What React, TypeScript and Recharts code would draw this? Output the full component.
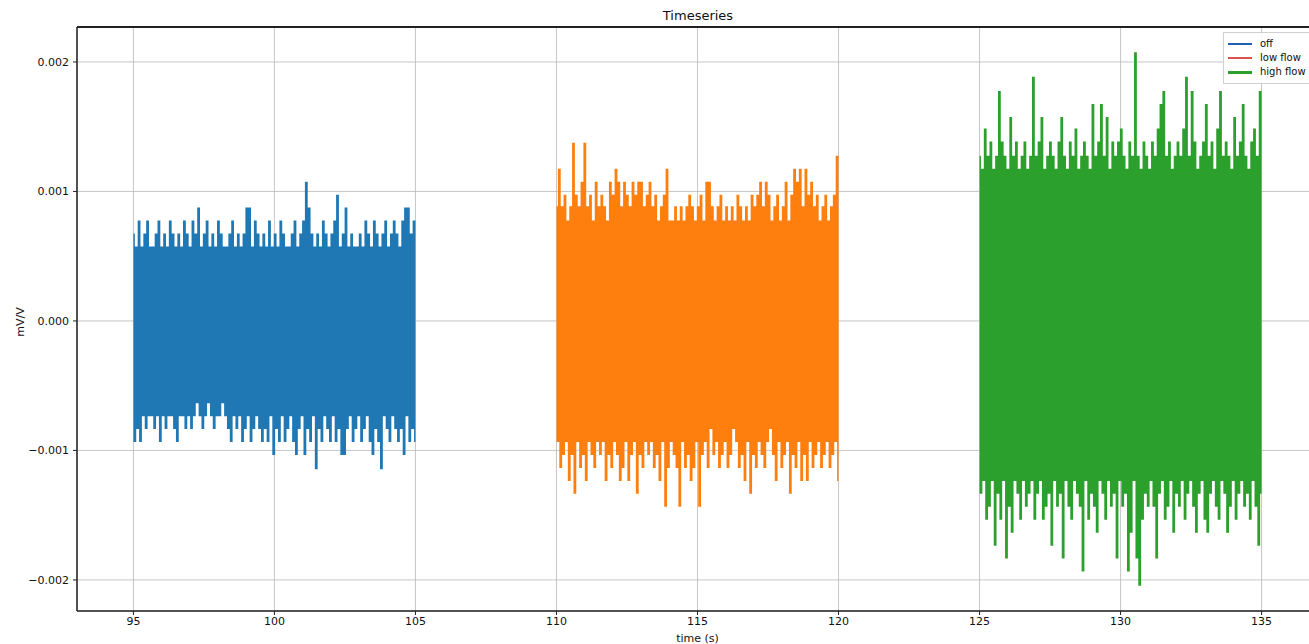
import { LineChart, Line, XAxis, YAxis, CartesianGrid, ReferenceLine } from 'recharts';

// sample peaks and troughs, in units of 1e-5 mV/V
const offHigh = [
  67, 57, 77, 57, 67, 77, 57, 57, 67, 77,
  57, 67, 57, 77, 67, 57, 67, 57, 77, 67,
  57, 77, 67, 87, 57, 67, 77, 57, 67, 57,
  77, 67, 57, 57, 67, 77, 57, 67, 57, 67,
  87, 87, 57, 77, 67, 57, 67, 57, 77, 57,
  67, 57, 77, 67, 57, 57, 67, 77, 57, 67,
  77, 107, 87, 67, 57, 67, 57, 77, 67, 57,
  67, 77, 97, 57, 67, 87, 57, 67, 57, 57,
  67, 57, 77, 67, 57, 77, 67, 57, 67, 77,
  57, 67, 77, 67, 57, 77, 87, 87, 67, 77,
];
const offLow = [
  -93, -83, -93, -73, -83, -73, -73, -83, -73, -93,
  -73, -83, -73, -73, -83, -93, -73, -73, -83, -73,
  -83, -73, -63, -73, -83, -73, -63, -73, -83, -73,
  -73, -63, -73, -83, -93, -73, -83, -73, -93, -83,
  -73, -93, -83, -73, -83, -93, -83, -93, -73, -103,
  -83, -93, -73, -93, -83, -73, -93, -103, -83, -73,
  -103, -83, -93, -73, -114, -83, -93, -73, -83, -93,
  -73, -93, -83, -103, -103, -83, -73, -93, -83, -73,
  -93, -83, -73, -93, -103, -83, -93, -114, -73, -83,
  -93, -73, -83, -93, -83, -103, -73, -93, -83, -93,
];
const lowHigh = [
  88, 117, 88, 97, 77, 88, 137, 97, 88, 107,
  137, 88, 97, 77, 107, 88, 97, 88, 77, 107,
  97, 117, 107, 88, 107, 97, 88, 107, 97, 107,
  107, 88, 97, 107, 88, 97, 77, 88, 97, 117,
  77, 77, 88, 77, 88, 77, 88, 97, 88, 77,
  88, 97, 77, 107, 107, 88, 77, 88, 97, 77,
  88, 77, 88, 77, 97, 88, 77, 88, 77, 97,
  88, 97, 107, 88, 107, 97, 77, 88, 97, 77,
  88, 107, 77, 97, 117, 107, 117, 88, 117, 97,
  107, 88, 97, 77, 88, 97, 77, 88, 97, 127,
];
const lowLow = [
  -93, -113, -103, -93, -123, -103, -133, -93, -113, -103,
  -123, -93, -103, -113, -93, -103, -93, -123, -103, -113,
  -93, -103, -123, -113, -93, -123, -103, -93, -133, -103,
  -113, -93, -103, -93, -113, -103, -123, -93, -143, -113,
  -93, -103, -113, -143, -93, -113, -103, -123, -113, -93,
  -143, -103, -93, -113, -83, -103, -93, -113, -103, -93,
  -113, -103, -83, -93, -113, -103, -123, -93, -133, -103,
  -113, -93, -103, -113, -93, -83, -103, -123, -93, -113,
  -103, -93, -133, -103, -113, -93, -123, -103, -123, -93,
  -113, -103, -93, -113, -103, -93, -113, -103, -93, -123,
];
const highHigh = [
  127, 117, 148, 127, 138, 117, 127, 177, 138, 127,
  117, 157, 127, 138, 117, 127, 138, 117, 127, 188,
  127, 138, 157, 117, 127, 138, 127, 117, 138, 157,
  127, 117, 138, 127, 148, 117, 127, 138, 127, 117,
  167, 127, 138, 167, 127, 157, 117, 138, 127, 138,
  148, 127, 117, 138, 127, 207, 127, 117, 138, 127,
  117, 138, 127, 148, 167, 177, 127, 138, 117, 127,
  138, 127, 148, 188, 127, 177, 138, 117, 127, 138,
  167, 127, 138, 117, 148, 177, 127, 138, 127, 117,
  157, 127, 138, 167, 127, 117, 138, 148, 127, 177,
];
const highLow = [
  -133, -123, -153, -143, -123, -173, -133, -153, -123, -183,
  -143, -163, -123, -133, -153, -123, -143, -133, -123, -153,
  -133, -123, -153, -143, -133, -173, -123, -143, -133, -183,
  -123, -143, -153, -123, -133, -143, -193, -123, -153, -133,
  -143, -163, -123, -133, -153, -123, -143, -133, -183, -123,
  -143, -133, -193, -163, -123, -183, -204, -153, -133, -143,
  -123, -143, -183, -133, -123, -153, -143, -123, -163, -133,
  -143, -123, -153, -133, -123, -143, -163, -133, -123, -153,
  -163, -133, -123, -143, -153, -123, -133, -163, -143, -123,
  -153, -133, -123, -143, -133, -153, -123, -143, -173, -133,
];

const segments = [
  { name: 'off', start: 95, end: 105, high: offHigh, low: offLow, color: '#1f77b4' },
  { name: 'low flow', start: 110, end: 120, high: lowHigh, low: lowLow, color: '#ff7f0e' },
  { name: 'high flow', start: 125, end: 135, high: highHigh, low: highLow, color: '#2ca02c' },
];
const legendItems = [
  { name: 'off', color: '#1f5fb4', width: 1.5 },
  { name: 'low flow', color: '#d9534f', width: 1.5 },
  { name: 'high flow', color: '#2ca02c', width: 3 },
];
const xTicks = [95, 100, 105, 110, 115, 120, 125, 130, 135];
const yTicks = [-0.002, -0.001, 0, 0.001, 0.002];
const xDomain = [93, 137];
const yDomain = [-0.00224, 0.00227];

// interleave peaks and troughs on an even time grid across each segment
const buildSeries = (s: typeof segments[number]) => {
  const n = s.high.length * 2;
  const dt = (s.end - s.start) / (n - 1);
  const pts: { t: number; v: number }[] = [];
  s.high.forEach((h, i) => {
    pts.push({ t: s.start + 2 * i * dt, v: h / 1e5 });
    pts.push({ t: s.start + (2 * i + 1) * dt, v: s.low[i] / 1e5 });
  });
  return pts;
};

const fmtY = (v: number) => (v === 0 ? '0.000' : (v < 0 ? '\u2212' : '') + Math.abs(v).toFixed(3));

const font = { fontFamily: 'DejaVu Sans, sans-serif', fontSize: 11, fill: '#111' };

export default function App() {
  return (
    <div style={{ position: 'absolute', left: 0, top: 0, width: 1309, height: 644, overflow: 'hidden', background: '#fff' }}>
      <div
        style={{
          position: 'absolute', left: 0, width: 1396, top: 8, textAlign: 'center',
          fontFamily: 'DejaVu Sans, sans-serif', fontSize: 13, color: '#111',
        }}
      >
        Timeseries
      </div>
      <div
        style={{
          position: 'absolute', left: 20, top: 322, transform: 'translate(-50%, -50%) rotate(-90deg)',
          fontFamily: 'DejaVu Sans, sans-serif', fontSize: 11, color: '#111', whiteSpace: 'nowrap',
        }}
      >
        mV/V
      </div>
      <LineChart width={1330} height={644} margin={{ top: 27, right: 12, bottom: 0, left: 0 }}>
        <CartesianGrid stroke="#b8b8b8" strokeWidth={0.8} />
        <XAxis
          dataKey="t"
          type="number"
          domain={xDomain}
          ticks={xTicks}
          allowDataOverflow
          height={33}
          tickSize={4}
          tickMargin={2}
          tick={font}
          axisLine={{ stroke: '#222', strokeWidth: 1.5 }}
          tickLine={{ stroke: '#222' }}
          label={{ value: 'time (s)', position: 'insideBottom', offset: 2, style: font }}
        />
        <YAxis
          type="number"
          domain={yDomain}
          ticks={yTicks}
          allowDataOverflow
          width={77}
          tickSize={4}
          tickMargin={4}
          tick={font}
          tickFormatter={fmtY}
          axisLine={{ stroke: '#222', strokeWidth: 1.5 }}
          tickLine={{ stroke: '#222' }}
        />
        <ReferenceLine y={yDomain[1]} stroke="#222" strokeWidth={2} ifOverflow="visible" />
        {segments.map((s) => (
          <Line
            key={s.name}
            data={buildSeries(s)}
            dataKey="v"
            name={s.name}
            type="step"
            stroke={s.color}
            strokeWidth={1.4}
            dot={false}
            isAnimationActive={false}
          />
        ))}
      </LineChart>
      <div
        style={{
          position: 'absolute', left: 1223, top: 32,
          border: '1px solid #d0d0d0', background: 'rgba(255,255,255,0.85)',
          padding: '4px 4px', fontFamily: 'DejaVu Sans, sans-serif', fontSize: 10, color: '#111',
          width: 100, lineHeight: '14px',
        }}
      >
        {legendItems.map((it) => (
          <div key={it.name} style={{ display: 'flex', alignItems: 'center' }}>
            <div style={{ width: 24, height: it.width, background: it.color, marginRight: 8 }} />
            <span>{it.name}</span>
          </div>
        ))}
      </div>
    </div>
  );
}
